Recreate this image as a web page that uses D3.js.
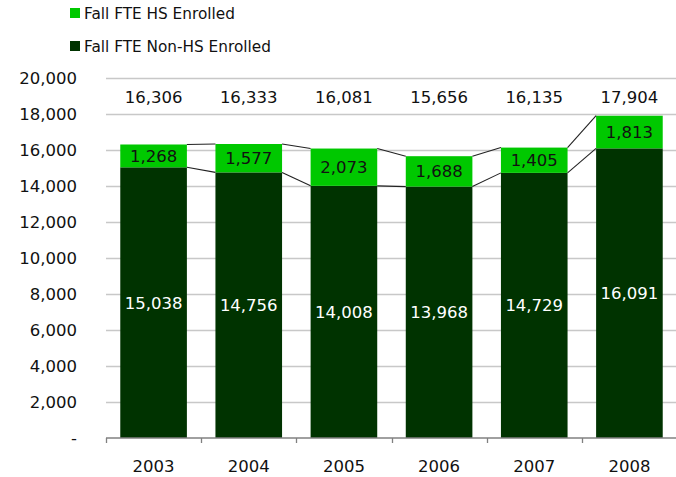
<!DOCTYPE html>
<html>
<head>
<meta charset="utf-8">
<script src="https://cdn.jsdelivr.net/npm/d3@7"></script>
<style>
  * { margin: 0; padding: 0; }
  body { background: #fff; }
  svg text { font-family: "DejaVu Sans", sans-serif; fill: #111; }
</style>
</head>
<body>
<div id="chart"></div>
<script>
var years = ["2003", "2004", "2005", "2006", "2007", "2008"];
var nonHS = [15038, 14756, 14008, 13968, 14729, 16091];
var hs = [1268, 1577, 2073, 1688, 1405, 1813];
var totals = [16306, 16333, 16081, 15656, 16135, 17904];
var yTicks = [0, 2000, 4000, 6000, 8000, 10000, 12000, 14000, 16000, 18000, 20000];

var W = 676, H = 477;
var plotLeft = 106, plotRight = 677, plotTop = 78, plotBottom = 438;

var svg = d3.select("#chart").append("svg")
    .attr("width", W).attr("height", H);

var x = d3.scaleBand().domain(years).range([plotLeft, plotRight])
    .paddingInner(0.3).paddingOuter(0.15);
var y = d3.scaleLinear().domain([0, 20000]).range([plotBottom, plotTop]);
var fmt = d3.format(",");

// gridlines
svg.selectAll("line.grid").data(yTicks.filter(function(d) { return d > 0; }))
  .enter().append("line")
    .attr("class", "grid")
    .attr("x1", plotLeft).attr("x2", W)
    .attr("y1", function(d) { return Math.round(y(d)) + 0.5; })
    .attr("y2", function(d) { return Math.round(y(d)) + 0.5; })
    .attr("stroke", "#c8c8c8").attr("stroke-width", 1.3);

// y labels
svg.selectAll("text.ylab").data(yTicks)
  .enter().append("text")
    .attr("class", "ylab")
    .attr("x", 77)
    .attr("y", function(d) { return y(d) + 6; })
    .attr("text-anchor", "end")
    .style("font-size", "16.5px")
    .text(function(d) { return d === 0 ? "-" : fmt(d); });

var rows = years.map(function(yr, i) {
  return { year: yr, nonHS: nonHS[i], hs: hs[i], total: totals[i] };
});
var series = d3.stack().keys(["nonHS", "hs"])(rows);
var colors = { nonHS: "#003300", hs: "#00c800" };

svg.selectAll("g.series").data(series)
  .enter().append("g")
    .attr("class", "series")
    .attr("fill", function(s) { return colors[s.key]; })
  .selectAll("rect").data(function(s) { return s; })
  .enter().append("rect")
    .attr("x", function(d) { return x(d.data.year); })
    .attr("width", x.bandwidth())
    .attr("y", function(d) { return y(d[1]); })
    .attr("height", function(d) { return y(d[0]) - y(d[1]); });

// series lines between bars
series.forEach(function(s) {
  for (var i = 0; i < s.length - 1; i++) {
    svg.append("line")
      .attr("x1", x(s[i].data.year) + x.bandwidth())
      .attr("y1", y(s[i][1]))
      .attr("x2", x(s[i + 1].data.year))
      .attr("y2", y(s[i + 1][1]))
      .attr("stroke", "#222").attr("stroke-width", 1.1);
  }
});

// value labels
svg.selectAll("text.nhs").data(series[0])
  .enter().append("text")
    .attr("class", "nhs")
    .attr("x", function(d) { return x(d.data.year) + x.bandwidth() / 2; })
    .attr("y", function(d) { return (y(d[0]) + y(d[1])) / 2 + 6; })
    .attr("text-anchor", "middle")
    .style("font-size", "16.5px")
    .style("fill", "#fff")
    .text(function(d) { return fmt(d.data.nonHS); });

svg.selectAll("text.hs").data(series[1])
  .enter().append("text")
    .attr("class", "hs")
    .attr("x", function(d) { return x(d.data.year) + x.bandwidth() / 2; })
    .attr("y", function(d) { return (y(d[0]) + y(d[1])) / 2 + 6; })
    .attr("text-anchor", "middle")
    .style("font-size", "16.5px")
    .text(function(d) { return fmt(d.data.hs); });

svg.selectAll("text.tot").data(rows)
  .enter().append("text")
    .attr("class", "tot")
    .attr("x", function(d) { return x(d.year) + x.bandwidth() / 2; })
    .attr("y", 103)
    .attr("text-anchor", "middle")
    .style("font-size", "16.5px")
    .text(function(d) { return fmt(d.total); });

// x axis
svg.append("line")
  .attr("x1", plotLeft).attr("x2", W)
  .attr("y1", plotBottom).attr("y2", plotBottom)
  .attr("stroke", "#808080").attr("stroke-width", 1.3);
var step = x.step();
d3.range(years.length + 1).forEach(function(i) {
  var px = Math.round(plotLeft + i * step) + 0.5;
  svg.append("line")
    .attr("x1", px).attr("x2", px)
    .attr("y1", plotBottom).attr("y2", plotBottom + 5)
    .attr("stroke", "#808080").attr("stroke-width", 1.3);
});
svg.selectAll("text.xlab").data(years)
  .enter().append("text")
    .attr("class", "xlab")
    .attr("x", function(d) { return x(d) + x.bandwidth() / 2; })
    .attr("y", 472)
    .attr("text-anchor", "middle")
    .style("font-size", "16.5px")
    .text(function(d) { return d; });

// legend
var legend = [
  { label: "Fall FTE HS Enrolled", color: colors.hs, y: 8 },
  { label: "Fall FTE Non-HS Enrolled", color: colors.nonHS, y: 41 }
];
legend.forEach(function(l) {
  svg.append("rect").attr("x", 70).attr("y", l.y)
    .attr("width", 10).attr("height", 10).attr("fill", l.color);
  svg.append("text").attr("x", 84).attr("y", l.y + 10.5)
    .style("font-size", "15.3px").text(l.label);
});
</script>
</body>
</html>
